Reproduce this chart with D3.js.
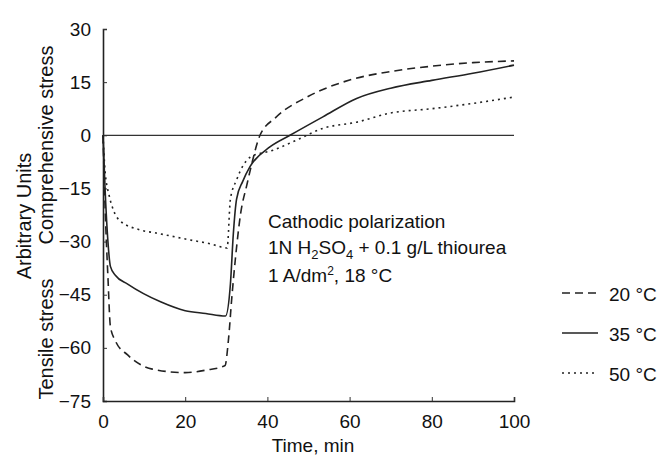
<!DOCTYPE html>
<html>
<head>
<meta charset="utf-8">
<script src="https://cdn.jsdelivr.net/npm/d3@7"></script>
<style>
  body { margin: 0; background: #fff; }
  text { font-family: "Liberation Sans", Arial, sans-serif; fill: #111; }
</style>
</head>
<body>
<script>
// time in minutes, stress in arbitrary units
var time20 = [0, 0.5, 1.2, 1.8, 3, 6, 12, 20, 25, 29.7, 30.5, 31.4, 32.2, 33.5, 35, 36, 38.2, 42, 50, 60, 70, 80, 90, 100];
var stress20 = [0, -20, -40, -54, -58, -62, -66, -67, -66.3, -65, -58, -45, -35, -22, -14, -9, 0, 5, 11, 15.6, 18, 19.5, 20.5, 21];

var time35 = [0, 0.5, 1.2, 1.8, 3, 6, 14, 20, 25, 29.8, 31, 31.7, 32.5, 34, 35.8, 40.6, 45.5, 53.5, 61.7, 70, 80, 90, 100];
var stress35 = [0, -15, -30, -37, -39.5, -42, -47, -49.5, -50.3, -51, -42, -28, -18, -13, -8.8, -3.3, 0, 5.2, 10.4, 13.3, 15.5, 17.5, 19.8];

var time50 = [0, 0.5, 1.5, 2.5, 4, 9, 13, 21, 26, 30.2, 31, 32.5, 35.8, 41.4, 47.2, 53.6, 61.7, 70, 80, 90, 100];
var stress50 = [0, -10, -17, -21, -24, -26.7, -27.6, -29.5, -30.6, -31.8, -18, -12.6, -6.2, -4.2, -1.3, 2, 3.7, 6.3, 7.5, 9, 10.8];

var xTicks = [0, 20, 40, 60, 80, 100];
var yTicks = [30, 15, 0, -15, -30, -45, -60, -75];
var legendLabels = ["20 \u00b0C", "35 \u00b0C", "50 \u00b0C"];

var w = 665;
var h = 460;

var svg = d3.select("body")
    .append("svg")
    .attr("width", w)
    .attr("height", h);

var x = d3.scaleLinear().domain([0, 100]).range([103, 514]);
var y = d3.scaleLinear().domain([-75, 30]).range([401, 29]);

var series = [
  { t: time20, v: stress20, dash: "8,5" },
  { t: time35, v: stress35, dash: null },
  { t: time50, v: stress50, dash: "2,4" }
];

// axes
var yAxis = svg.append("g")
    .attr("transform", "translate(" + x(0) + ",0)")
    .call(d3.axisLeft(y).tickValues(yTicks).tickSize(-4).tickPadding(12));

var xAxis = svg.append("g")
    .attr("transform", "translate(0," + y(-75) + ")")
    .call(d3.axisBottom(x).tickValues(xTicks).tickSize(-4).tickPadding(14));

svg.selectAll(".domain")
   .attr("stroke", "#222")
   .attr("stroke-width", 1.6);

svg.selectAll(".tick line")
   .attr("stroke", "#333")
   .attr("stroke-width", 1);

svg.selectAll(".tick text")
   .attr("font-size", "19px")
   .attr("fill", "#111")
   .attr("font-family", "Liberation Sans, Arial, sans-serif");

// zero line
svg.append("line")
   .attr("x1", x(0))
   .attr("x2", x(100))
   .attr("y1", y(0))
   .attr("y2", y(0))
   .attr("stroke", "#333")
   .attr("stroke-width", 1.3);

var line = d3.line()
    .x(function(d) { return x(d[0]); })
    .y(function(d) { return y(d[1]); })
    .curve(d3.curveMonotoneX);

svg.selectAll(".series")
   .data(series)
   .enter()
   .append("path")
   .attr("class", "series")
   .attr("d", function(s) {
        return line(s.t.map(function(t, i) { return [t, s.v[i]]; }));
   })
   .attr("fill", "none")
   .attr("stroke", "#222")
   .attr("stroke-width", 1.6)
   .attr("stroke-dasharray", function(s) { return s.dash; });

// axis titles
svg.append("text")
   .attr("transform", "translate(31,216) rotate(-90)")
   .attr("text-anchor", "middle")
   .attr("font-size", "20px")
   .text("Arbitrary Units");

svg.append("text")
   .attr("transform", "translate(53,339) rotate(-90)")
   .attr("text-anchor", "middle")
   .attr("font-size", "20px")
   .text("Tensile stress");

svg.append("text")
   .attr("transform", "translate(53,145) rotate(-90)")
   .attr("text-anchor", "middle")
   .attr("font-size", "20px")
   .text("Comprehensive stress");

svg.append("text")
   .attr("x", 313)
   .attr("y", 452)
   .attr("text-anchor", "middle")
   .attr("font-size", "19px")
   .text("Time, min");

// annotation
var note = svg.append("g").attr("font-size", "19px");
note.append("text").attr("x", 268).attr("y", 228).text("Cathodic polarization");

var l2 = note.append("text").attr("x", 268).attr("y", 254);
l2.append("tspan").text("1N H");
l2.append("tspan").attr("font-size", "13px").attr("dy", 5).text("2");
l2.append("tspan").attr("dy", -5).text("SO");
l2.append("tspan").attr("font-size", "13px").attr("dy", 5).text("4");
l2.append("tspan").attr("dy", -5).text(" + 0.1 g/L thiourea");

var l3 = note.append("text").attr("x", 268).attr("y", 282);
l3.append("tspan").text("1 A/dm");
l3.append("tspan").attr("font-size", "12px").attr("dy", -7).text("2");
l3.append("tspan").attr("dy", 7).text(", 18 \u00b0C");

// legend
var legend = svg.selectAll(".legend")
    .data(series)
    .enter()
    .append("g")
    .attr("class", "legend")
    .attr("transform", function(d, i) { return "translate(0," + (293 + i * 40) + ")"; });

legend.append("line")
   .attr("x1", 562)
   .attr("x2", 598)
   .attr("stroke", "#222")
   .attr("stroke-width", 1.4)
   .attr("stroke-dasharray", function(s) { return s.dash; });

legend.append("text")
   .attr("x", 609)
   .attr("y", 8)
   .attr("font-size", "19px")
   .text(function(d, i) { return legendLabels[i]; });
</script>
</body>
</html>
